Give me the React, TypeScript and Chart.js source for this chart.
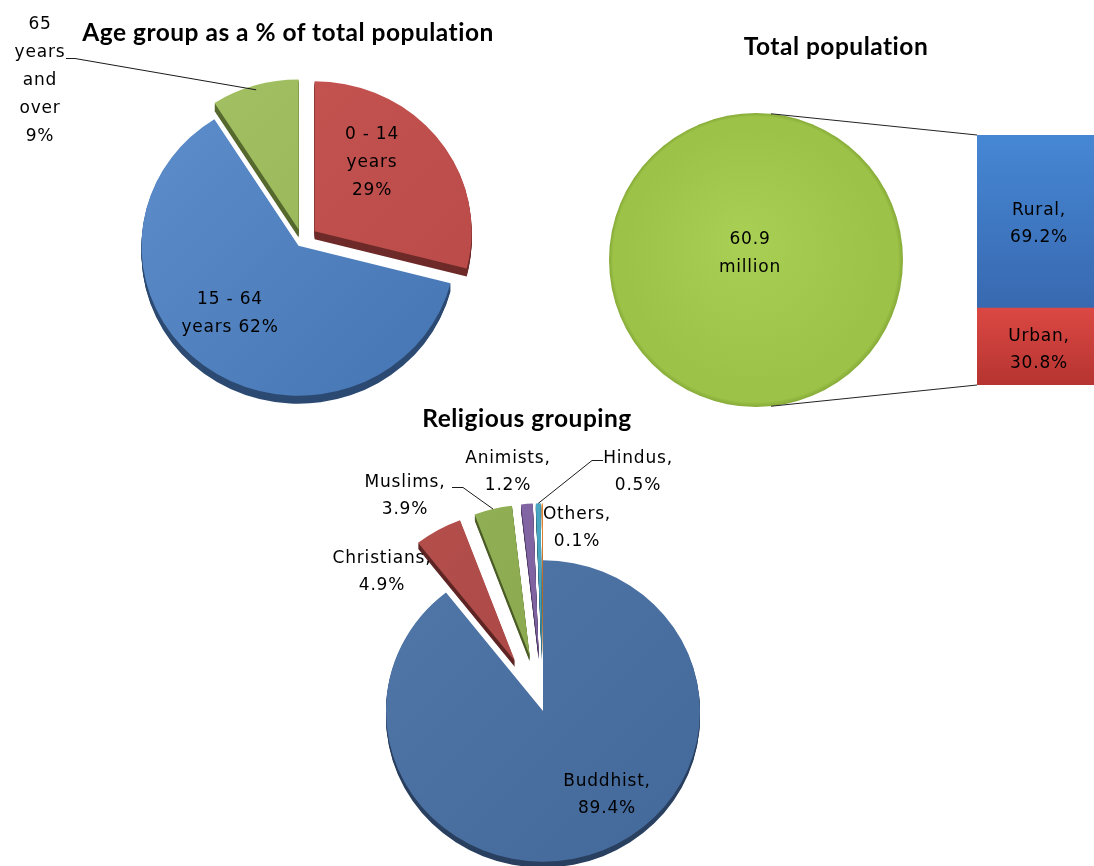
import React, { useEffect, useRef } from 'react';
import { Chart, registerables } from 'chart.js';
Chart.register(...registerables);

// ---------------- DATA ----------------
const AGE_GROUPS = ['0 - 14 years', '15 - 64 years', '65 years and over'];
const AGE_VALUES = [29, 62, 9];

const TOTAL_LABELS = ['Total population'];
const TOTAL_VALUES = [60.9]; // million
const TOTAL_UNIT = 'million';

const AREA_TYPES = ['Rural', 'Urban'];
const AREA_VALUES = [69.2, 30.8];

const RELIGIONS = ['Buddhist', 'Christians', 'Muslims', 'Animists', 'Hindus', 'Others'];
const RELIGION_VALUES = [89.4, 4.9, 3.9, 1.2, 0.5, 0.1];

const TITLES = ['Age group as a % of total population', 'Total population', 'Religious grouping'];

// ---------------- LAYOUT / STYLE ----------------
const W = 1094;
const H = 866;
const CW = 1094;
const CH = 1000;
const BAR_CW = 1260;

const LABEL_FAMILY = '"DejaVu Sans", Verdana, sans-serif';
const TITLE_FAMILY = 'Lato, "Open Sans", sans-serif';

type Leader = { pts: number[][]; slice: number; frac: number };
type PieStyle = {
  cx: number; cy: number; r: number; tilt: number; depth: number;
  explode: number[]; top: string[][]; side: string[];
  radial?: boolean; rim?: string; leaders?: Leader[];
};

const AGE_STYLE: PieStyle = {
  cx: 302, cy: 241, r: 157, tilt: 0.955, depth: 8,
  explode: [16, 6, 12],
  top: [['#C75653', '#B84946'], ['#5E8FCC', '#4474B2'], ['#A4C265', '#93B252']],
  side: ['#6E2B29', '#2C4A72', '#56692E'],
  leaders: [{ pts: [[66, 58.5], [75, 58.5]], slice: 2, frac: 0.97 }],
};

const TOTAL_STYLE: PieStyle = {
  cx: 756, cy: 260, r: 147, tilt: 1, depth: 0,
  explode: [0],
  top: [['#A9D055', '#9CC247']],
  side: ['#6F8F2E'],
  radial: true, rim: '#86AA38',
};

const REL_STYLE: PieStyle = {
  cx: 543, cy: 711, r: 157, tilt: 0.96, depth: 6,
  explode: [0, 57, 57, 57, 57, 57],
  top: [
    ['#5077A8', '#43689A'], ['#B54F4C', '#A44542'], ['#93B156', '#84A24A'],
    ['#8569A7', '#765B98'], ['#4DACC8', '#3E98B3'], ['#F5963F', '#E8872F'],
  ],
  side: ['#2A4060', '#5E2524', '#4B5C26', '#45335C', '#245C6B', '#8A4D14'],
  leaders: [
    { pts: [[452, 487.5], [463, 487.5]], slice: 2, frac: 1 },
    { pts: [[603, 460.5], [592, 460.5]], slice: 4, frac: 1 },
  ],
};

// label layout: centre x, first-line centre y, words per line
const AGE_LABEL_POS = [
  { x: 372, y: 133, lines: [3, 1, 1] },
  { x: 230, y: 298, lines: [3, 2] },
  { x: 40, y: 23, lines: [1, 1, 1, 1, 1] },
];
const REL_LABEL_POS = [
  { x: 607, y: 780 }, { x: 382, y: 557 }, { x: 405, y: 481 },
  { x: 508, y: 457 }, { x: 638, y: 457 }, { x: 577, y: 513 },
];
const AREA_LABEL_POS = [{ x: 1039, y: 209 }, { x: 1039, y: 335 }];
const TOTAL_LABEL_POS = { x: 750, y: 238 };
const TITLE_POS = [{ x: 288, y: 32 }, { x: 836, y: 46 }, { x: 527, y: 418 }];

const BAR_BOX = { left: 977, top: 135, bottom: 385 };
const AREA_COLORS = [['#4687D4', '#3869B0'], ['#DC4843', '#B53431']];

// ---------------- HELPERS ----------------
const wrap = (text: string, counts: number[]) => {
  const words = text.split(' ');
  const out: string[] = [];
  let k = 0;
  for (const c of counts) {
    out.push(words.slice(k, k + c).join(' '));
    k += c;
  }
  return out.join('\n');
};

function sliceGeom(chart: any, explode: number[]) {
  const meta = chart.getDatasetMeta(0);
  return meta.data.map((el: any, i: number) => {
    const p = el.getProps(['x', 'y', 'startAngle', 'endAngle', 'outerRadius'], true);
    const mid = (p.startAngle + p.endAngle) / 2;
    const e = explode[i] || 0;
    return {
      cx: p.x + Math.cos(mid) * e,
      cy: p.y + Math.sin(mid) * e,
      r: p.outerRadius,
      a0: p.startAngle,
      a1: p.endAngle,
      mid,
    };
  });
}

function makePie3d(st: PieStyle) {
  return {
    id: 'pie3d',
    beforeDatasetsDraw(chart: any) {
      const ctx: CanvasRenderingContext2D = chart.ctx;
      const g = sliceGeom(chart, st.explode);
      const sector = (s: any, dy: number) => {
        ctx.beginPath();
        const full = s.a1 - s.a0 >= Math.PI * 2 - 1e-6;
        if (full) {
          ctx.ellipse(s.cx, s.cy + dy, s.r, s.r * st.tilt, 0, 0, Math.PI * 2);
        } else {
          ctx.moveTo(s.cx, s.cy + dy);
          ctx.ellipse(s.cx, s.cy + dy, s.r, s.r * st.tilt, 0, s.a0, s.a1);
          ctx.closePath();
        }
      };
      ctx.save();
      for (let k = st.depth; k >= 1; k--) {
        g.forEach((s: any, i: number) => {
          if (s.a1 - s.a0 <= 0) return;
          sector(s, k);
          ctx.fillStyle = st.side[i];
          ctx.fill();
        });
      }
      g.forEach((s: any, i: number) => {
        if (s.a1 - s.a0 <= 0) return;
        sector(s, 0);
        let fill: CanvasGradient;
        if (st.radial) {
          fill = ctx.createRadialGradient(s.cx - s.r * 0.1, s.cy - s.r * 0.15, 0, s.cx, s.cy, s.r);
          fill.addColorStop(0, st.top[i][0]);
          fill.addColorStop(0.88, st.top[i][1]);
          fill.addColorStop(0.97, st.top[i][1]);
          fill.addColorStop(1, st.rim || st.top[i][1]);
        } else {
          fill = ctx.createLinearGradient(s.cx - s.r, s.cy - s.r, s.cx + s.r, s.cy + s.r);
          fill.addColorStop(0, st.top[i][0]);
          fill.addColorStop(1, st.top[i][1]);
        }
        ctx.fillStyle = fill;
        ctx.fill();
      });
      ctx.strokeStyle = '#1a1a1a';
      ctx.lineWidth = 1;
      (st.leaders || []).forEach((L) => {
        const s = g[L.slice];
        const ex = s.cx + Math.cos(s.mid) * s.r * L.frac;
        const ey = s.cy + Math.sin(s.mid) * s.r * L.frac * st.tilt;
        ctx.beginPath();
        ctx.moveTo(L.pts[0][0], L.pts[0][1]);
        for (let j = 1; j < L.pts.length; j++) ctx.lineTo(L.pts[j][0], L.pts[j][1]);
        ctx.lineTo(ex, ey);
        ctx.stroke();
      });
      ctx.restore();
      return false;
    },
  };
}

function makePie(canvas: HTMLCanvasElement, labels: string[], values: number[], st: PieStyle) {
  const s = st.r * 2 + 4;
  return new Chart(canvas, {
    type: 'pie',
    data: {
      labels,
      datasets: [{ data: values, backgroundColor: st.top.map((t) => t[0]), borderWidth: 0 }],
    },
    options: {
      animation: false,
      responsive: false,
      events: [],
      radius: st.r,
      layout: {
        padding: {
          left: st.cx - s / 2,
          right: CW - st.cx - s / 2,
          top: st.cy - s / 2,
          bottom: CH - st.cy - s / 2,
        },
      },
      plugins: { legend: { display: false }, tooltip: { enabled: false } },
    } as any,
    plugins: [makePie3d(st)],
  });
}

function makeConnector(getPie: () => any) {
  return {
    id: 'connector',
    afterDatasetsDraw(chart: any) {
      const pie = getPie();
      if (!pie) return;
      const arc = pie.getDatasetMeta(0).data[0];
      if (!arc) return;
      const c = arc.getProps(['x', 'y', 'outerRadius'], true);
      const topEl = chart.getDatasetMeta(1).data[0];
      const botEl = chart.getDatasetMeta(0).data[0];
      const left = topEl.x - topEl.width / 2;
      const corners = [
        { x: left, y: topEl.y, sign: -1 },
        { x: left, y: botEl.base, sign: 1 },
      ];
      const ctx: CanvasRenderingContext2D = chart.ctx;
      ctx.save();
      ctx.strokeStyle = '#222';
      ctx.lineWidth = 1;
      corners.forEach((p) => {
        const dx = p.x - c.x;
        const dy = p.y - c.y;
        const d = Math.hypot(dx, dy);
        const phi = Math.atan2(dy, dx);
        const alpha = Math.acos(c.outerRadius / d);
        const a = phi + p.sign * alpha;
        ctx.beginPath();
        ctx.moveTo(c.x + Math.cos(a) * c.outerRadius, c.y + Math.sin(a) * c.outerRadius);
        ctx.lineTo(p.x, p.y);
        ctx.stroke();
      });
      ctx.restore();
    },
  };
}

function barGradient(which: number) {
  return (context: any) => {
    const ca = context.chart.chartArea;
    if (!ca) return AREA_COLORS[which][0];
    const g = context.chart.ctx.createLinearGradient(0, ca.top, 0, ca.bottom);
    const f = AREA_VALUES[0] / 100;
    if (which === 0) {
      g.addColorStop(0, AREA_COLORS[0][0]);
      g.addColorStop(f, AREA_COLORS[0][1]);
      g.addColorStop(1, AREA_COLORS[0][1]);
    } else {
      g.addColorStop(0, AREA_COLORS[1][0]);
      g.addColorStop(f, AREA_COLORS[1][0]);
      g.addColorStop(1, AREA_COLORS[1][1]);
    }
    return g;
  };
}

// ---------------- COMPONENTS ----------------
const Label = ({ text, x, y, lh = 27.5, family = LABEL_FAMILY, size = 17, weight = 400, spacing = 0.8 }: any) => (
  <div
    style={{
      position: 'absolute',
      left: x,
      top: y - lh / 2,
      transform: 'translateX(-50%)',
      whiteSpace: 'pre',
      textAlign: 'center',
      fontFamily: family,
      fontSize: size,
      fontWeight: weight,
      lineHeight: lh + 'px',
      letterSpacing: spacing + 'px',
      color: '#000',
    }}
  >
    {text}
  </div>
);

const canvasStyle: React.CSSProperties = { position: 'absolute', left: 0, top: 0 };

export default function App() {
  const ageRef = useRef<HTMLCanvasElement>(null);
  const totRef = useRef<HTMLCanvasElement>(null);
  const barRef = useRef<HTMLCanvasElement>(null);
  const relRef = useRef<HTMLCanvasElement>(null);

  useEffect(() => {
    const charts: Chart[] = [];
    const age = makePie(ageRef.current!, AGE_GROUPS, AGE_VALUES, AGE_STYLE);
    charts.push(age);
    const tot = makePie(totRef.current!, TOTAL_LABELS, TOTAL_VALUES, TOTAL_STYLE);
    charts.push(tot);
    const rel = makePie(relRef.current!, RELIGIONS, RELIGION_VALUES, REL_STYLE);
    charts.push(rel);
    const bar = new Chart(barRef.current!, {
      type: 'bar',
      data: {
        labels: TOTAL_LABELS,
        datasets: [
          { label: AREA_TYPES[1], data: [AREA_VALUES[1]], backgroundColor: barGradient(1) as any },
          { label: AREA_TYPES[0], data: [AREA_VALUES[0]], backgroundColor: barGradient(0) as any },
        ],
      },
      options: {
        animation: false,
        responsive: false,
        events: [],
        layout: {
          padding: { left: BAR_BOX.left, right: 0, top: BAR_BOX.top, bottom: CH - BAR_BOX.bottom },
        },
        scales: {
          x: { display: false, stacked: true },
          y: { display: false, stacked: true, min: 0, max: 100 },
        },
        datasets: { bar: { barPercentage: 1, categoryPercentage: 1, borderWidth: 0 } },
        plugins: { legend: { display: false }, tooltip: { enabled: false } },
      } as any,
      plugins: [makeConnector(() => tot)],
    });
    charts.push(bar);
    return () => charts.forEach((c) => c.destroy());
  }, []);

  return (
    <div
      style={{
        position: 'fixed', left: 0, top: 0, width: W, height: H,
        overflow: 'hidden', background: '#fff',
      }}
    >
      <canvas ref={ageRef} width={CW} height={CH} style={{ ...canvasStyle, width: CW, height: CH }} />
      <canvas ref={totRef} width={CW} height={CH} style={{ ...canvasStyle, width: CW, height: CH }} />
      <canvas ref={relRef} width={CW} height={CH} style={{ ...canvasStyle, width: CW, height: CH }} />
      <canvas ref={barRef} width={BAR_CW} height={CH} style={{ ...canvasStyle, width: BAR_CW, height: CH }} />

      {TITLES.map((t, i) => (
        <Label key={'t' + i} text={t} x={TITLE_POS[i].x} y={TITLE_POS[i].y}
          family={TITLE_FAMILY} size={24.5} weight={700} spacing={0.5} lh={30} />
      ))}

      {AGE_GROUPS.map((g, i) => (
        <Label key={'a' + i} text={wrap(`${g} ${AGE_VALUES[i]}%`, AGE_LABEL_POS[i].lines)}
          x={AGE_LABEL_POS[i].x} y={AGE_LABEL_POS[i].y} lh={28} />
      ))}

      <Label text={`${TOTAL_VALUES[0]}\n${TOTAL_UNIT}`} x={TOTAL_LABEL_POS.x} y={TOTAL_LABEL_POS.y} lh={28} />

      {AREA_TYPES.map((a, i) => (
        <Label key={'r' + i} text={`${a},\n${AREA_VALUES[i]}%`} x={AREA_LABEL_POS[i].x} y={AREA_LABEL_POS[i].y} lh={27} />
      ))}

      {RELIGIONS.map((r, i) => (
        <Label key={'g' + i} text={`${r},\n${RELIGION_VALUES[i]}%`} x={REL_LABEL_POS[i].x} y={REL_LABEL_POS[i].y} lh={27} />
      ))}
    </div>
  );
}
